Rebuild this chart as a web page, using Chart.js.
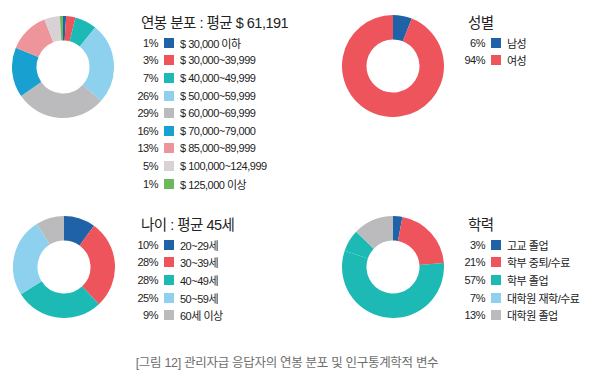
<!DOCTYPE html>
<html>
<head>
<meta charset="utf-8">
<title>연봉 분포 및 인구통계학적 변수</title>
<script src="https://cdn.jsdelivr.net/npm/chart.js"></script>
<style>
  body { margin: 0; background: #fff; width: 592px; height: 381px; position: relative; overflow: hidden;
         font-family: "Liberation Sans", "Noto Sans CJK KR", sans-serif; color: #222; }
  .pie { position: absolute; width: 102px; height: 102px; }
  .legend { position: absolute; }
  .legend .title { font-size: 14.5px; letter-spacing: -0.5px; height: 22px; line-height: 22px; margin: 0 0 0 6px; }
  .legend .row { display: flex; align-items: center; height: 17.6px; font-size: 11px; letter-spacing: -0.5px; }
  .legend .pct { width: 23px; text-align: right; }
  .legend .box { width: 10px; height: 10px; margin: 0 6px 0 6px; }
  .caption { position: absolute; left: 0; width: 574px; top: 352px; text-align: center; font-size: 12.5px;
             color: #6d6d6d; letter-spacing: -0.3px; }
</style>
</head>
<body>
<canvas id="income" class="pie" style="left:12px; top:16px;"></canvas>
<canvas id="gender" class="pie" style="left:342px; top:15px;"></canvas>
<canvas id="age" class="pie" style="left:13px; top:216px;"></canvas>
<canvas id="edu" class="pie" style="left:342px; top:216px;"></canvas>

<div id="incomeLegend" class="legend" style="left:135px; top:12px;"></div>
<div id="genderLegend" class="legend" style="left:462px; top:12px;"></div>
<div id="ageLegend" class="legend" style="left:135px; top:214px;"></div>
<div id="eduLegend" class="legend" style="left:462px; top:214px;"></div>

<div class="caption">[그림 12] 관리자급 응답자의 연봉 분포 및 인구통계학적 변수</div>

<script>
// colours
const blue = '#1f62a8', red = '#ee545b', teal = '#1dbab5', lightBlue = '#8dd1ee', gray = '#bbbbbd',
      midBlue = '#18a0d0', pink = '#ee959b', lightGray = '#d8d2d7', green = '#6bb95b';

// 연봉 분포
const incomeTitle = '연봉 분포 : 평균 $ 61,191';
const incomeLabels = ['$ 30,000 이하', '$ 30,000~39,999', '$ 40,000~49,999', '$ 50,000~59,999',
                      '$ 60,000~69,999', '$ 70,000~79,000', '$ 85,000~89,999', '$ 100,000~124,999', '$ 125,000 이상'];
const incomeValues = [1, 3, 7, 26, 29, 16, 13, 5, 1];
const incomeColors = [blue, red, teal, lightBlue, gray, midBlue, pink, lightGray, green];

// 성별
const genderTitle = '성별';
const genderLabels = ['남성', '여성'];
const genderValues = [6, 94];
const genderColors = [blue, red];

// 나이
const ageTitle = '나이 : 평균 45세';
const ageLabels = ['20~29세', '30~39세', '40~49세', '50~59세', '60세 이상'];
const ageValues = [10, 28, 28, 25, 9];
const ageColors = [blue, red, teal, lightBlue, gray];

// 학력 (the 7% slice is drawn teal in the original, legend box light blue)
const eduTitle = '학력';
const eduLabels = ['고교 졸업', '학부 중퇴/수료', '학부 졸업', '대학원 재학/수료', '대학원 졸업'];
const eduValues = [3, 21, 57, 7, 13];
const eduColors = [blue, red, teal, lightBlue, gray];
const eduSliceColors = [blue, red, teal, teal, gray];

function donut(id, labels, values, colors) {
  new Chart(document.getElementById(id), {
    type: 'doughnut',
    data: {
      labels: labels,
      datasets: [{ data: values, backgroundColor: colors, borderWidth: 0 }]
    },
    options: {
      responsive: false,
      animation: false,
      cutout: '52%',
      plugins: { legend: { display: false }, tooltip: { enabled: false } }
    }
  });
}

function legend(id, title, labels, values, colors) {
  const el = document.getElementById(id);
  let html = '<div class="title">' + title + '</div>';
  labels.forEach((label, i) => {
    html += '<div class="row"><span class="pct">' + values[i] + '%</span>' +
            '<span class="box" style="background:' + colors[i] + '"></span><span>' + label + '</span></div>';
  });
  el.innerHTML = html;
}

donut('income', incomeLabels, incomeValues, incomeColors);
donut('gender', genderLabels, genderValues, genderColors);
donut('age', ageLabels, ageValues, ageColors);
donut('edu', eduLabels, eduValues, eduSliceColors);

legend('incomeLegend', incomeTitle, incomeLabels, incomeValues, incomeColors);
legend('genderLegend', genderTitle, genderLabels, genderValues, genderColors);
legend('ageLegend', ageTitle, ageLabels, ageValues, ageColors);
legend('eduLegend', eduTitle, eduLabels, eduValues, eduColors);
</script>
</body>
</html>
